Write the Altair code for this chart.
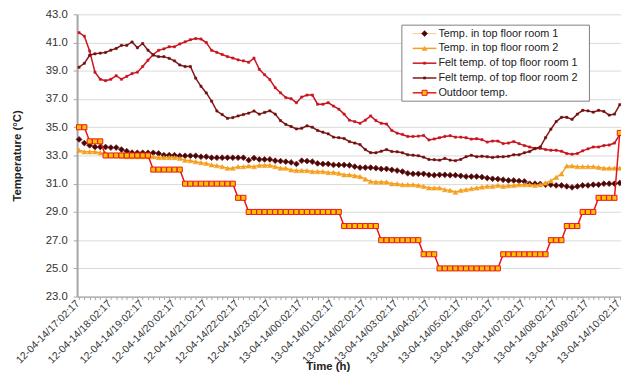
import altair as alt
import pandas as pd

series_names = [
    "Temp. in top floor room 1",
    "Temp. in top floor room 2",
    "Felt temp. of top floor room 1",
    "Felt temp. of top floor room 2",
    "Outdoor temp.",
]

tick_labels = [
    "12-04-14/17:02:17", "12-04-14/18:02:17", "12-04-14/19:02:17", "12-04-14/20:02:17",
    "12-04-14/21:02:17", "12-04-14/22:02:17", "12-04-14/23:02:17", "13-04-14/00:02:17",
    "13-04-14/01:02:17", "13-04-14/02:02:17", "13-04-14/03:02:17", "13-04-14/04:02:17",
    "13-04-14/05:02:17", "13-04-14/06:02:17", "13-04-14/07:02:17", "13-04-14/08:02:17",
    "13-04-14/09:02:17", "13-04-14/10:02:17",
]

y_ticks = [23, 25, 27, 29, 31, 33, 35, 37, 39, 41, 43]

indoor1 = [
    34.14, 33.88, 33.72, 33.60, 33.60, 33.60, 33.56, 33.56, 33.42, 33.30,
    33.20, 33.19, 33.19, 33.19, 33.19, 33.14, 33.02, 33.02, 33.02, 32.98,
    32.98, 32.98, 32.98, 32.91, 32.91, 32.84, 32.84, 32.84, 32.84, 32.84,
    32.84, 32.84, 32.67, 32.82, 32.72, 32.72, 32.72, 32.63, 32.60, 32.56,
    32.51, 32.40, 32.63, 32.60, 32.56, 32.44, 32.40, 32.40, 32.33, 32.33,
    32.33, 32.30, 32.21, 32.14, 32.14, 32.14, 32.10, 32.05, 32.05, 31.98,
    31.93, 31.86, 31.74, 31.70, 31.70, 31.70, 31.63, 31.60, 31.63, 31.63,
    31.60, 31.60, 31.56, 31.51, 31.51, 31.51, 31.47, 31.40, 31.35, 31.33,
    31.28, 31.23, 31.23, 31.19, 31.16, 31.00, 31.00, 30.98, 30.93, 30.93,
    30.88, 30.88, 30.81, 30.74, 30.81, 30.88, 30.88, 30.93, 30.93, 31.00,
    31.00, 31.00, 31.05,
]

indoor2 = [
    33.37, 33.26, 33.26, 33.26, 33.19, 33.14, 33.02, 33.00, 32.95, 32.91,
    32.91, 32.91, 32.91, 32.91, 32.91, 32.86, 32.86, 32.86, 32.86, 32.79,
    32.67, 32.63, 32.56, 32.49, 32.44, 32.33, 32.28, 32.21, 32.10, 32.10,
    32.21, 32.21, 32.26, 32.21, 32.30, 32.30, 32.30, 32.21, 32.10, 32.10,
    31.98, 31.93, 31.93, 31.93, 31.86, 31.86, 31.86, 31.79, 31.79, 31.74,
    31.63, 31.63, 31.56, 31.51, 31.33, 31.16, 31.12, 31.12, 31.12, 31.00,
    31.00, 30.93, 30.93, 30.93, 30.88, 30.81, 30.70, 30.70, 30.70, 30.58,
    30.53, 30.40, 30.53, 30.58, 30.65, 30.70, 30.77, 30.81, 30.81, 30.88,
    30.81, 30.86, 30.88, 30.93, 30.93, 30.93, 30.88, 30.93, 31.05, 31.20,
    31.45, 31.70, 32.26, 32.26, 32.21, 32.21, 32.21, 32.21, 32.16, 32.10,
    32.10, 32.10, 32.10,
]

felt1 = [
    41.70, 41.45, 40.40, 38.90, 38.40, 38.30, 38.40, 38.65, 38.40, 38.60,
    38.80, 38.90, 39.30, 39.75, 40.15, 40.45, 40.55, 40.70, 40.70, 40.90,
    41.05, 41.20, 41.28, 41.25, 41.00, 40.45, 40.30, 40.15, 40.00, 39.90,
    39.77, 39.70, 39.60, 39.90, 39.10, 38.72, 38.37, 37.80, 37.44, 37.10,
    37.02, 36.74, 37.14, 37.28, 37.28, 36.63, 36.63, 36.74, 36.50, 36.28,
    35.93, 35.50, 35.40, 35.28, 35.50, 35.80, 35.47, 35.28, 35.23, 34.77,
    34.58, 34.49, 34.35, 34.35, 34.37, 34.42, 34.10, 34.17, 34.26, 34.35,
    34.40, 34.30, 34.30, 34.26, 34.16, 34.19, 34.12, 33.95, 34.02, 34.02,
    33.84, 33.88, 33.98, 33.84, 33.70, 33.60, 33.49, 33.51, 33.42, 33.37,
    33.37, 33.30, 33.14, 33.09, 33.14, 33.33, 33.47, 33.60, 33.60, 33.70,
    33.74, 33.88, 34.50,
]

felt2 = [
    39.25, 39.53, 40.10, 40.20, 40.25, 40.30, 40.46, 40.58, 40.80, 40.80,
    41.04, 40.63, 40.93, 40.46, 40.11, 40.00, 40.00, 39.88, 39.70, 39.41,
    39.30, 39.30, 38.48, 37.90, 37.43, 36.85, 36.15, 35.90, 35.63, 35.68,
    35.80, 35.90, 36.00, 36.15, 35.93, 36.05, 36.16, 35.93, 35.47, 35.20,
    35.05, 34.88, 34.93, 35.10, 35.00, 34.77, 34.65, 34.53, 34.30, 34.26,
    34.20, 33.98, 33.88, 33.77, 33.42, 33.20, 33.19, 33.30, 33.42, 33.28,
    33.26, 33.19, 33.05, 33.02, 32.98, 32.88, 32.72, 32.70, 32.67, 32.79,
    32.67, 32.63, 32.72, 32.91, 33.02, 32.91, 32.95, 32.91, 32.86, 32.91,
    32.91, 32.95, 33.05, 33.05, 33.19, 33.28, 33.49, 33.60, 34.26, 34.86,
    35.40, 35.70, 35.70, 35.56, 35.93, 36.20, 36.16, 36.07, 36.20, 36.12,
    35.86, 35.93, 36.60,
]

outdoor = (
    [35] * 2 + [34] * 3 + [33] * 9 + [32] * 6 + [31] * 10 + [30] * 2
    + [29] * 18 + [28] * 7 + [27] * 8 + [26] * 3 + [25] * 12 + [26] * 9
    + [27] * 3 + [28] * 3 + [29] * 3 + [30] * 4 + [34.6]
)

all_series = [indoor1, indoor2, felt1, felt2, outdoor]

styles = [
    dict(line="#fbcfa6", lw=1.2, shape="diamond", size=34, fill="#3d0b0b", stroke="#7a1414", sw=0.8),
    dict(line="#f5a01e", lw=1.5, shape="triangle-up", size=26, fill="#f5a01e", stroke="#f5a01e", sw=0.5),
    dict(line="#c8141e", lw=1.5, shape="square", size=5, fill="#c8141e", stroke="#c8141e", sw=0.5),
    dict(line="#841616", lw=1.5, shape="square", size=5, fill="#6e1010", stroke="#6e1010", sw=0.5),
    dict(line="#e8141c", lw=1.5, shape="square", size=26, fill="#ffc000", stroke="#e8141c", sw=1.0),
]

rows = []
for name, vals in zip(series_names, all_series):
    for i, v in enumerate(vals):
        rows.append({"series": name, "i": i, "temp": v})
df = pd.DataFrame(rows)

n = len(outdoor)
label_arr = "[" + ",".join("'" + s + "'" for s in tick_labels) + "]"

x_scale = alt.Scale(domain=[-0.37, 102.23], nice=False, zero=False)
y_scale = alt.Scale(domain=[23, 43], nice=False, zero=False)

x_axis = alt.Axis(
    values=list(range(n)),
    labelExpr=f"datum.value % 6 == 0 ? {label_arr}[round(datum.value / 6)] : ''",
    labelAngle=-45,
    labelAlign="right",
    labelBaseline="middle",
    labelPadding=2,
    labelOffset=-1.5,
    labelOverlap=False,
    labelBound=False,
    labelFlush=False,
    labelFontSize=10.5,
    labelColor="#333333",
    tickSize=3,
    tickColor="#a6a6a6",
    domainColor="#a6a6a6",
    domainWidth=1.5,
    grid=False,
    title="Time (h)",
    titleFontSize=11.5,
    titleFontWeight="bold",
    titleColor="#222222",
    titleX=254,
    titleY=74,
    titleAlign="center",
    titleBaseline="alphabetic",
)

y_axis = alt.Axis(
    values=y_ticks,
    format=".1f",
    labelFontSize=11.5,
    labelColor="#333333",
    labelPadding=6,
    tickSize=4,
    tickColor="#a6a6a6",
    domainColor="#a6a6a6",
    domainWidth=2,
    grid=True,
    gridColor="#d9d9d9",
    gridWidth=1,
    title="Temperature (\u00b0C)",
    titleFontSize=11.5,
    titleFontWeight="bold",
    titleColor="#222222",
    titleAngle=-90,
    titleX=-60,
    titleY=143,
    titleAlign="center",
    titleBaseline="middle",
)

base = alt.Chart(df)
layers = []
for k, (name, st) in enumerate(zip(series_names, styles)):
    sub = base.transform_filter(alt.datum.series == name)
    enc = dict(
        x=alt.X("i:Q", scale=x_scale, axis=x_axis),
        y=alt.Y("temp:Q", scale=y_scale, axis=y_axis),
    )
    layers.append(sub.mark_line(color=st["line"], strokeWidth=st["lw"]).encode(**enc))
    layers.append(
        sub.mark_point(
            shape=st["shape"], size=st["size"], filled=True, fill=st["fill"],
            stroke=st["stroke"], strokeWidth=st["sw"], opacity=1,
        ).encode(**enc)
    )

# legend box
one = pd.DataFrame({"k": [0]})
layers.append(
    alt.Chart(one).mark_rect(fill="white", stroke="#7f7f7f", strokeWidth=1).encode(
        x=alt.value(329), x2=alt.value(519), y=alt.value(11), y2=alt.value(88)
    )
)
for k, (name, st) in enumerate(zip(series_names, styles)):
    yk = 19.5 + 15 * k
    row = alt.Chart(pd.DataFrame({"name": [name]}))
    layers.append(
        row.mark_rule(color=st["line"], strokeWidth=st["lw"]).encode(
            x=alt.value(340), x2=alt.value(364), y=alt.value(yk)
        )
    )
    layers.append(
        row.mark_point(
            shape=st["shape"], size=st["size"], filled=True, fill=st["fill"],
            stroke=st["stroke"], strokeWidth=st["sw"], opacity=1,
        ).encode(x=alt.value(352), y=alt.value(yk))
    )
    layers.append(
        row.mark_text(align="left", baseline="middle", fontSize=11, color="#222222").encode(
            x=alt.value(366), y=alt.value(yk), text="name:N"
        )
    )

chart = alt.layer(*layers).properties(
    width=551,
    height=286,
    autosize=alt.AutoSizeParams(type="none"),
    padding={"left": 70, "top": 4, "right": 0, "bottom": 77},
    background="white",
).configure(
    font="Liberation Sans",
    view=alt.ViewConfig(stroke="transparent", strokeWidth=0),
)

chart.save("out.html", embed_options={"renderer": "svg", "actions": False})
